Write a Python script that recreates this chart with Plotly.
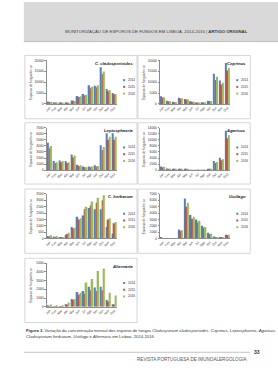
import plotly.graph_objects as go

W, H = 278, 380

months = ["Jan", "Fev", "Mar", "Abr", "Mai", "Jun", "Jul", "Ago", "Set", "Out", "Nov", "Dez"]
years = ["2014", "2015", "2016"]
colors = ["#4F81BD", "#C0504D", "#9BBB59"]

# C. cladosporioides
clad_2014 = [1100, 800, 600, 500, 1600, 3600, 4500, 8600, 8300, 16800, 6900, 5000]
clad_2015 = [900, 600, 400, 400, 1500, 3200, 3900, 7200, 7600, 13700, 5800, 4400]
clad_2016 = [1000, 700, 500, 600, 1300, 3500, 4200, 7900, 8600, 14900, 6400, 4500]
# Coprinus
copr_2014 = [3500, 1500, 1000, 2800, 2300, 1200, 600, 800, 1500, 13900, 10800, 18800]
copr_2015 = [3000, 1200, 800, 2500, 2000, 1000, 500, 600, 1200, 11000, 8900, 15300]
copr_2016 = [3000, 1200, 900, 2600, 2100, 1000, 500, 700, 1300, 12500, 9700, 16500]
# Leptosphaeria
lept_2014 = [4500, 1500, 1600, 1500, 2600, 900, 600, 600, 800, 4100, 6100, 6100]
lept_2015 = [3600, 1200, 1300, 1200, 2100, 700, 500, 500, 600, 3300, 5000, 5000]
lept_2016 = [4000, 1300, 1500, 1300, 2400, 800, 500, 600, 700, 3800, 5500, 5500]
# Agaricus
agar_2014 = [1200, 600, 400, 500, 300, 150, 100, 100, 300, 3000, 4100, 13000]
agar_2015 = [1000, 500, 300, 400, 200, 100, 80, 80, 200, 2400, 3300, 10500]
agar_2016 = [1100, 500, 400, 400, 250, 100, 80, 80, 250, 2700, 3600, 11500]
# C. herbarum
herb_2014 = [200, 150, 80, 250, 900, 1700, 1800, 2400, 2300, 2300, 900, 400]
herb_2015 = [150, 100, 50, 350, 800, 1500, 2300, 2600, 2800, 3000, 1500, 1200]
herb_2016 = [250, 200, 100, 450, 850, 1600, 2500, 2900, 3200, 3400, 1600, 1300]
# Ustilago
usti_2014 = [100, 30, 30, 1400, 6300, 3700, 3000, 2000, 900, 300, 250, 600]
usti_2015 = [80, 20, 20, 1200, 5000, 3100, 2500, 1700, 700, 250, 250, 550]
usti_2016 = [80, 20, 20, 1300, 5600, 3400, 2800, 1800, 750, 250, 200, 600]
# Alternaria
alte_2014 = [100, 60, 40, 300, 900, 1700, 1800, 2300, 2200, 2300, 800, 300]
alte_2015 = [60, 40, 30, 250, 800, 1400, 1500, 1900, 1800, 1900, 600, 250]
alte_2016 = [250, 150, 100, 500, 900, 1600, 2800, 3200, 4100, 4400, 1600, 1300]

titles = ["C. cladosporioides", "Coprinus", "Leptosphaeria", "Agaricus",
          "C. herbarum", "Ustilago", "Alternaria"]
series = [
    [clad_2014, clad_2015, clad_2016],
    [copr_2014, copr_2015, copr_2016],
    [lept_2014, lept_2015, lept_2016],
    [agar_2014, agar_2015, agar_2016],
    [herb_2014, herb_2015, herb_2016],
    [usti_2014, usti_2015, usti_2016],
    [alte_2014, alte_2015, alte_2016],
]
ymax = [20000, 20000, 7000, 14000, 3500, 7000, 5000]
dtick = [5000, 5000, 1000, 2000, 500, 1000, 1000]
y_title = "Esporos de fungos/m³ ar"

# layout geometry (pixels)
box_rows = [(54, 118), (122, 184), (189, 254), (259, 324)]
plot_rows = [(59, 103), (127, 170), (194, 239), (264, 308)]
col_off = [0, 114]
box_x = (23, 136)
plot_x = (45, 116)

def px(x):
    return x / W

def py(y):
    return 1 - y / H

FONT = "Liberation Sans"
fig = go.Figure()
shapes = []
annotations = []
layout = {}

# header band
shapes.append(dict(type="rect", xref="paper", yref="paper", x0=px(22), x1=1, y0=py(40), y1=1,
                   fillcolor="#d9d9d9", line=dict(width=0), layer="below"))
shapes.append(dict(type="line", xref="paper", yref="paper", x0=px(22), x1=1, y0=py(40), y1=py(40),
                   line=dict(color="#bdbdbd", width=1)))
annotations.append(dict(xref="paper", yref="paper", x=px(250), y=py(30), xanchor="right", yanchor="middle",
                        text="MONITORIZAÇÃO DE ESPOROS DE FUNGOS EM LISBOA, 2014-2016 | <b>ARTIGO ORIGINAL</b>",
                        showarrow=False, font=dict(size=4.3, color="#3a3a3a", family=FONT)))

for i in range(7):
    row, col = divmod(i, 2)
    off = col_off[col]
    n = i + 1
    xa = "x" if n == 1 else f"x{n}"
    ya = "y" if n == 1 else f"y{n}"
    for s, yr, c in zip(series[i], years, colors):
        fig.add_trace(go.Bar(x=months, y=s, name=yr, marker_color=c, marker_line_width=0,
                             xaxis=xa, yaxis=ya, showlegend=False))
    pt, pb = plot_rows[row]
    bt, bb = box_rows[row]
    layout["xaxis" if n == 1 else f"xaxis{n}"] = dict(
        domain=[px(plot_x[0] + off), px(plot_x[1] + off)], anchor=ya,
        range=[-0.5, 11.5], showline=True, linecolor="#8c8c8c", linewidth=0.6,
        ticks="", tickangle=-45, tickfont=dict(size=3.2, color="#333", family=FONT),
        showgrid=False, zeroline=False, fixedrange=True)
    layout["yaxis" if n == 1 else f"yaxis{n}"] = dict(
        domain=[py(pb), py(pt)], anchor=xa, range=[0, ymax[i]], dtick=dtick[i], tick0=0,
        tickformat="d",
        showline=True, linecolor="#8c8c8c", linewidth=0.6, ticks="outside", ticklen=1.5,
        tickcolor="#8c8c8c", tickwidth=0.5,
        tickfont=dict(size=3.3, color="#333", family=FONT),
        showgrid=False, zeroline=False, fixedrange=True)
    # panel box
    shapes.append(dict(type="rect", xref="paper", yref="paper",
                       x0=px(box_x[0] + off), x1=px(box_x[1] + off), y0=py(bb), y1=py(bt),
                       line=dict(color="#c4c4c4", width=0.7), fillcolor="rgba(0,0,0,0)"))
    # title
    annotations.append(dict(xref="paper", yref="paper", x=px(box_x[1] + off - 2), y=py(bt + 8),
                            xanchor="right", yanchor="middle", showarrow=False,
                            text=f"<b><i>{titles[i]}</i></b>",
                            font=dict(size=4.2, color="#222", family=FONT)))
    # y axis title
    annotations.append(dict(xref="paper", yref="paper", x=px(29 + off), y=py((pt + pb) / 2),
                            xanchor="center", yanchor="middle", showarrow=False, textangle=-90,
                            text=y_title, font=dict(size=3.2, color="#333", family=FONT)))
    # legend
    for k, (yr, c) in enumerate(zip(years, colors)):
        ly = pt + 20 + 6.8 * k
        mx = 123 + off
        shapes.append(dict(type="rect", xref="paper", yref="paper",
                           x0=px(mx - 1), x1=px(mx + 1), y0=py(ly + 1), y1=py(ly - 1),
                           fillcolor=c, line=dict(width=0)))
        annotations.append(dict(xref="paper", yref="paper", x=px(mx + 1.8), y=py(ly),
                                xanchor="left", yanchor="middle", showarrow=False, text=yr,
                                font=dict(size=3.2, color="#333", family=FONT)))

# caption
annotations.append(dict(xref="paper", yref="paper", x=px(22), y=py(332), xanchor="left", yanchor="middle",
                        showarrow=False,
                        text="<b>Figura 3.</b> Variação da concentração mensal dos esporos de fungos "
                             "<i>Cladosporium cladosporioides</i>, <i>Coprinus</i>, <i>Leptosphaeria</i>, <i>Agaricus</i>,",
                        font=dict(size=4.2, color="#333", family=FONT)))
annotations.append(dict(xref="paper", yref="paper", x=px(22), y=py(338.5), xanchor="left", yanchor="middle",
                        showarrow=False,
                        text="<i>Cladosporium herbarum</i>, <i>Ustilago</i> e <i>Alternaria</i> em Lisboa, 2014-2016",
                        font=dict(size=4.2, color="#333", family=FONT)))

# footer
shapes.append(dict(type="line", xref="paper", yref="paper", x0=px(22), x1=px(250), y0=py(354), y1=py(354),
                   line=dict(color="#9a9a9a", width=0.6)))
annotations.append(dict(xref="paper", yref="paper", x=px(257), y=py(353.5), xanchor="center", yanchor="middle",
                        showarrow=False, text="<b>33</b>", font=dict(size=5, color="#333", family=FONT)))
annotations.append(dict(xref="paper", yref="paper", x=px(250), y=py(361), xanchor="right", yanchor="middle",
                        showarrow=False, text="REVISTA PORTUGUESA DE IMUNOALERGOLOGIA",
                        font=dict(size=4.6, color="#555", family=FONT)))

fig.update_layout(
    width=W, height=H, margin=dict(l=0, r=0, t=0, b=0),
    paper_bgcolor="white", plot_bgcolor="white",
    barmode="group", bargap=0.2, bargroupgap=0,
    shapes=shapes, annotations=annotations, showlegend=False,
    **layout)

fig.write_html("out.html", config={"displayModeBar": False})
